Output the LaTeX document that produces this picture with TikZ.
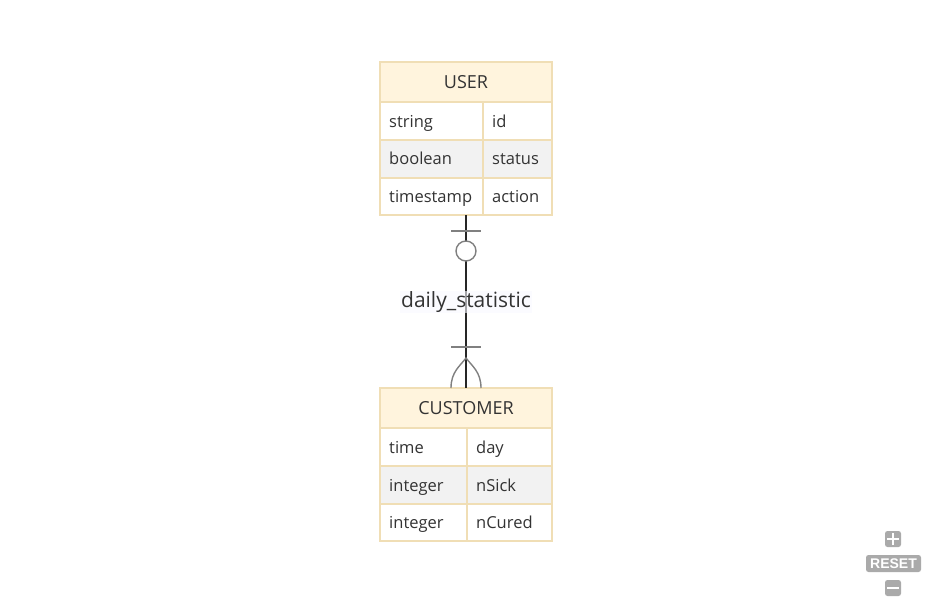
\documentclass[tikz,border=0pt]{standalone}
\usepackage{fontspec}
\setmainfont{Open Sans}
\newfontfamily\btnfont{Liberation Sans}
\definecolor{hdrfill}{HTML}{FFF4DD}
\definecolor{bordc}{HTML}{F0DEB5}
\definecolor{altrow}{HTML}{F2F2F2}
\definecolor{txtc}{HTML}{333333}
\definecolor{markc}{HTML}{808080}
\definecolor{lblbg}{HTML}{F8F8FF}
\definecolor{btnc}{HTML}{AAAAAA}
\begin{document}
\begin{tikzpicture}[x=1pt,y=-1pt,
  celltxt/.style={anchor=base west,text=txtc,font=\fontsize{16.5}{18}\selectfont,inner sep=0pt},
  hdrtxt/.style={anchor=base,text=txtc,font=\fontsize{18}{20}\selectfont,inner sep=0pt},
  relline/.style={draw=black!85,line width=1.6pt},
  relmark/.style={draw=markc,line width=1.4pt},
  btn/.style={fill=btnc,rounded corners=2.5pt}]
\useasboundingbox (0,0) rectangle (932,603);
% USER table
\path[fill=hdrfill] (380,62) rectangle (552,102);
\path[fill=white] (380,102) rectangle (552,140);
\path[fill=altrow] (380,140) rectangle (552,178);
\path[fill=white] (380,178) rectangle (552,215);
\draw[draw=bordc,line width=1.5pt] (380,62) rectangle (552,215);
\draw[draw=bordc,line width=1.5pt] (380,102) -- (552,102) (380,140) -- (552,140) (380,178) -- (552,178) (483,102) -- (483,215);
\node[hdrtxt] (userh) at (466,88) {USER};
\node[celltxt] (u1a) at (389,127) {string};
\node[celltxt] (u1b) at (492,127) {id};
\node[celltxt] (u2a) at (389,164) {boolean};
\node[celltxt] (u2b) at (492,164) {status};
\node[celltxt] (u3a) at (389,202) {timestamp};
\node[celltxt] (u3b) at (492,202) {action};
\coordinate (userbot) at (466,215);
% CUSTOMER table
\path[fill=hdrfill] (380,388) rectangle (552,428);
\path[fill=white] (380,428) rectangle (552,466);
\path[fill=altrow] (380,466) rectangle (552,504);
\path[fill=white] (380,504) rectangle (552,541);
\draw[draw=bordc,line width=1.5pt] (380,388) rectangle (552,541);
\draw[draw=bordc,line width=1.5pt] (380,428) -- (552,428) (380,466) -- (552,466) (380,504) -- (552,504) (467,428) -- (467,541);
\node[hdrtxt] (custh) at (466,414) {CUSTOMER};
\node[celltxt] (c1a) at (389,453) {time};
\node[celltxt] (c1b) at (476,453) {day};
\node[celltxt] (c2a) at (389,491) {integer};
\node[celltxt] (c2b) at (476,491) {nSick};
\node[celltxt] (c3a) at (389,528) {integer};
\node[celltxt] (c3b) at (476,528) {nCured};
\coordinate (custtop) at (466,388);
% relationship
\draw[relline] (userbot) -- (custtop);
\draw[relmark] (451,231) -- (481,231);
\draw[relmark,fill=white] (466,251) circle (10);
\draw[relmark] (451,347) -- (481,347);
\draw[relmark] (451,388) .. controls (451,372) and (460,366) .. (466,358) .. controls (472,366) and (481,372) .. (481,388);
\node[fill=lblbg,fill opacity=0.6,text opacity=1,text=txtc,font=\fontsize{21}{23}\selectfont,inner sep=1pt,text height=15pt,text depth=5pt] (lbl) at (466,302) {daily\_statistic};
% buttons
\node[btn,minimum width=16pt,minimum height=16pt,inner sep=0pt] (plus) at (893,539) {};
\draw[white,line width=2.5pt] (887,539) -- (899,539) (893,533) -- (893,545);
\node[btn,minimum width=55pt,minimum height=17pt,inner sep=0pt,text=white,font=\btnfont\bfseries\fontsize{14}{15}\selectfont] (reset) at (893.5,563.5) {RESET};
\node[btn,minimum width=16pt,minimum height=16pt,inner sep=0pt] (minus) at (893,588) {};
\draw[white,line width=2.5pt] (887,588) -- (899,588);
\end{tikzpicture}
\end{document}
